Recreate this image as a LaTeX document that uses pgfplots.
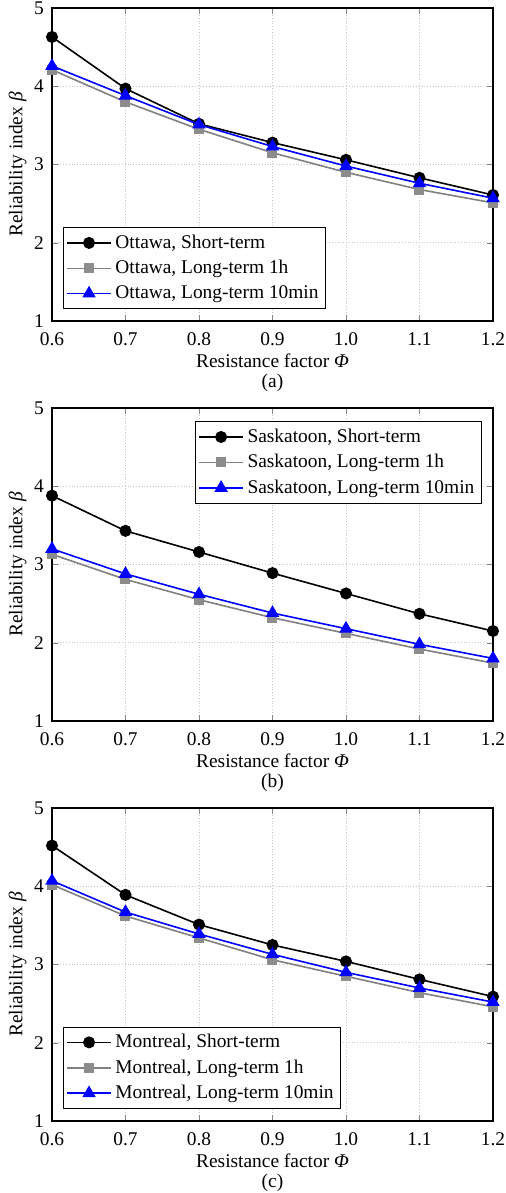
\documentclass[border=0pt]{standalone}
\usepackage{fontspec}
\setmainfont{Liberation Serif}
\usepackage{pgfplots}
\pgfplotsset{compat=1.18}

\definecolor{lgray}{RGB}{128,128,128}
\definecolor{mgray}{RGB}{140,140,140}

\newcommand{\fs}{\fontsize{9.7}{11.5}\selectfont}

\pgfplotsset{
  relpanel/.style={
    scale only axis,
    width=220.5pt, height=156.5pt,
    xmin=0.6, xmax=1.2, ymin=1, ymax=5,
    clip mode=individual,
    xtick={0.6,0.7,...,1.2}, ytick={1,2,3,4,5},
    xticklabel style={/pgf/number format/fixed, /pgf/number format/fixed zerofill,
      /pgf/number format/precision=1, anchor=center, yshift=-9pt},
    yticklabel style={anchor=center, xshift=-6.5pt},
    /pgf/number format/assume math mode=true,
    tick align=inside, tick pos=both,
    major tick length=3pt,
    axis line style={black, line width=0.6pt},
    grid=major,
    grid style={densely dotted, gray!45, line width=0.4pt},
    tick label style={font=\fs},
    label style={font=\fs},
    ylabel={Reliability index \textit{β}},
    ylabel style={at={(axis description cs:-0.078,0.5)}, anchor=center},
    xlabel style={at={(axis description cs:0.5,-0.126)}, anchor=center},
    legend cell align=left,
    legend style={draw=black, line width=0.6pt, font=\fs,
      inner sep=1.5pt, row sep=0.5pt},
    legend image post style={line width=0.8pt},
    legend image code/.code={
      \draw[mark repeat=2,mark phase=2] plot coordinates {(0cm,0cm) (0.38cm,0cm) (0.76cm,0cm)};},
  },
  sshort/.style={black, line width=0.8pt, mark=*, mark size=2.6pt, mark options={solid, fill=black}},
  slong/.style={lgray, line width=0.8pt, mark=square*, mark size=2.1pt, mark options={solid, fill=mgray, draw=mgray}},
  sten/.style={blue, line width=0.8pt, mark=triangle*, mark size=3.1pt, mark options={solid, fill=blue}},
}

\begin{document}
\begin{tikzpicture}
% (a) Ottawa
\begin{axis}[relpanel,
  xlabel={Resistance factor \textit{Φ}},
  legend style={at={(0.025,0.038)}, anchor=south west}]
\addplot[sshort] coordinates {(0.6,4.63) (0.7,3.97) (0.8,3.52) (0.9,3.28) (1.0,3.06) (1.1,2.83) (1.2,2.61)};
\addlegendentry{Ottawa, Short-term}
\addplot[slong] coordinates {(0.6,4.21) (0.7,3.80) (0.8,3.45) (0.9,3.15) (1.0,2.90) (1.1,2.68) (1.2,2.51)};
\addlegendentry{Ottawa, Long-term 1h}
\addplot[sten] coordinates {(0.6,4.26) (0.7,3.88) (0.8,3.51) (0.9,3.23) (1.0,2.98) (1.1,2.76) (1.2,2.57)};
\addlegendentry{Ottawa, Long-term 10min}
\node[font=\fs] at (rel axis cs:0.5,-0.198) {(a)};
\end{axis}

% (b) Saskatoon
\begin{axis}[relpanel, at={(0,-200pt)},
  xlabel={Resistance factor \textit{Φ}},
  legend style={at={(0.975,0.958)}, anchor=north east}]
\addplot[sshort] coordinates {(0.6,3.88) (0.7,3.43) (0.8,3.16) (0.9,2.89) (1.0,2.63) (1.1,2.37) (1.2,2.15)};
\addlegendentry{Saskatoon, Short-term}
\addplot[slong] coordinates {(0.6,3.13) (0.7,2.81) (0.8,2.55) (0.9,2.32) (1.0,2.12) (1.1,1.92) (1.2,1.74)};
\addlegendentry{Saskatoon, Long-term 1h}
\addplot[sten] coordinates {(0.6,3.20) (0.7,2.88) (0.8,2.62) (0.9,2.38) (1.0,2.18) (1.1,1.98) (1.2,1.80)};
\addlegendentry{Saskatoon, Long-term 10min}
\node[font=\fs] at (rel axis cs:0.5,-0.198) {(b)};
\end{axis}

% (c) Montreal
\begin{axis}[relpanel, at={(0,-400pt)},
  xlabel={Resistance factor \textit{Φ}},
  legend style={at={(0.025,0.038)}, anchor=south west}]
\addplot[sshort] coordinates {(0.6,4.52) (0.7,3.89) (0.8,3.51) (0.9,3.25) (1.0,3.04) (1.1,2.81) (1.2,2.59)};
\addlegendentry{Montreal, Short-term}
\addplot[slong] coordinates {(0.6,4.02) (0.7,3.62) (0.8,3.34) (0.9,3.06) (1.0,2.85) (1.1,2.64) (1.2,2.46)};
\addlegendentry{Montreal, Long-term 1h}
\addplot[sten] coordinates {(0.6,4.07) (0.7,3.67) (0.8,3.39) (0.9,3.13) (1.0,2.90) (1.1,2.70) (1.2,2.52)};
\addlegendentry{Montreal, Long-term 10min}
\node[font=\fs] at (rel axis cs:0.5,-0.198) {(c)};
\end{axis}

\pgfresetboundingbox
\path[use as bounding box] (-26pt,-436pt) rectangle (227pt,160.5pt);
\end{tikzpicture}
\end{document}
